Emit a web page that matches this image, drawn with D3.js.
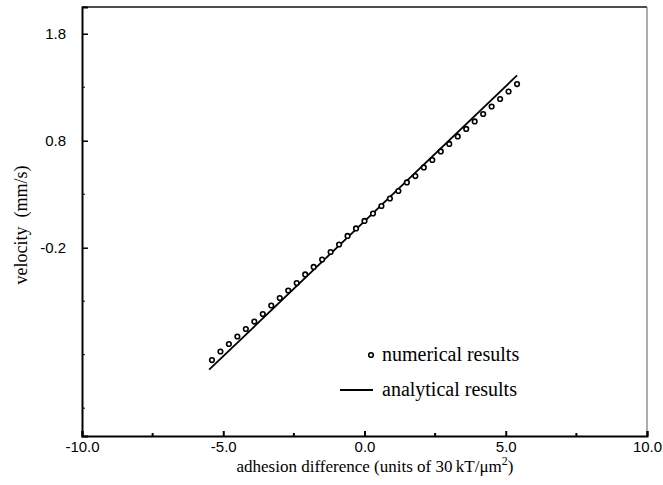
<!DOCTYPE html>
<html lang="en">
  <head>
    <meta charset="UTF-8" />
    <title>velocity vs adhesion difference</title>
    <style>
      body { margin: 0; background: #fff; }
      .tick-label { font-family: "Liberation Sans", Arial, sans-serif; font-size: 15px; }
      .serif { font-family: "Liberation Serif", "Times New Roman", serif; }
    </style>
  </head>
  <body>
    <div id="app"></div>
    <script src="https://cdn.jsdelivr.net/npm/d3@7"></script>
    <script>
      // numerical results (x step 0.3 from -5.4 to 5.4)
      const numX = d3.range(37).map(i => +(-5.4 + 0.3 * i).toFixed(1));
      const numV = [-1.25, -1.17, -1.10, -1.03, -0.96, -0.89, -0.82, -0.74, -0.67, -0.60,
                    -0.53, -0.45, -0.38, -0.31, -0.24, -0.17, -0.09, -0.02, 0.05, 0.12,
                    0.19, 0.26, 0.33, 0.41, 0.47, 0.55, 0.62, 0.70, 0.77, 0.84,
                    0.91, 0.98, 1.05, 1.12, 1.19, 1.26, 1.33];
      // analytical results (straight line)
      const lineX = [-5.5, 5.4];
      const lineV = [-1.34, 1.41];

      const xTicks = [-10, -5, 0, 5, 10];
      const xMinor = [-7.5, -2.5, 2.5, 7.5];
      const yTicks = [1.8, 0.8, -0.2];
      const yMinor = [1.3, 0.3, -0.7, -1.2, -1.7];

      const width = 663, height = 485;
      const plotL = 82, plotR = 647, plotT = 7, plotB = 436;

      const x = d3.scaleLinear().domain([-10, 10]).range([plotL, plotR]);
      const y = d3.scaleLinear().domain([-1.96, 2.05]).range([plotB, plotT]);

      const svg = d3.select("#app").append("svg")
        .attr("width", width).attr("height", height);

      // frame
      svg.append("line").attr("x1", plotL).attr("x2", plotR).attr("y1", plotT).attr("y2", plotT)
        .attr("stroke", "#111").attr("stroke-width", 1.5);
      svg.append("line").attr("x1", plotR).attr("x2", plotR).attr("y1", plotT).attr("y2", plotB)
        .attr("stroke", "#777").attr("stroke-width", 1.2);

      // x axis with inward ticks
      const xAxis = d3.axisBottom(x).tickValues(xTicks).tickSize(-5).tickPadding(5)
        .tickFormat(d3.format(".1f"));
      const gx = svg.append("g").attr("transform", `translate(0,${plotB})`).call(xAxis);
      gx.select(".domain").attr("stroke", "#000").attr("stroke-width", 2);
      gx.selectAll(".tick line").attr("stroke-width", 2);
      gx.selectAll("text").attr("class", "tick-label").attr("fill", "#000")
        .text(d => d3.format(".1f")(d).replace("−", "-"));
      svg.append("g").selectAll("line").data(xMinor).join("line")
        .attr("x1", d => x(d)).attr("x2", d => x(d))
        .attr("y1", plotB).attr("y2", plotB - 3)
        .attr("stroke", "#000").attr("stroke-width", 2);

      // y axis with inward ticks
      const yAxis = d3.axisLeft(y).tickValues(yTicks).tickSize(-6).tickPadding(16)
        .tickFormat(d3.format(".1f"));
      const gy = svg.append("g").attr("transform", `translate(${plotL},0)`).call(yAxis);
      gy.select(".domain").attr("stroke", "#000").attr("stroke-width", 2);
      gy.selectAll(".tick line").attr("stroke-width", 1.5);
      gy.selectAll("text").attr("class", "tick-label").attr("fill", "#000")
        .text(d => d3.format(".1f")(d).replace("−", "-"));
      svg.append("g").selectAll("line").data(yMinor).join("line")
        .attr("x1", plotL).attr("x2", plotL + 3)
        .attr("y1", d => y(d)).attr("y2", d => y(d))
        .attr("stroke", "#000").attr("stroke-width", 1);

      // analytical line
      svg.append("path")
        .datum(lineX.map((d, i) => [d, lineV[i]]))
        .attr("fill", "none").attr("stroke", "#000").attr("stroke-width", 1.8)
        .attr("d", d3.line().x(d => x(d[0])).y(d => y(d[1])));

      // numerical points
      svg.append("g").selectAll("circle").data(numX).join("circle")
        .attr("cx", d => x(d)).attr("cy", (d, i) => y(numV[i]))
        .attr("r", 2.3).attr("fill", "#fff").attr("stroke", "#000").attr("stroke-width", 1.6);

      // legend
      const lg = svg.append("g");
      lg.append("circle").attr("cx", 371).attr("cy", 355).attr("r", 2.3)
        .attr("fill", "#fff").attr("stroke", "#000").attr("stroke-width", 1.6);
      lg.append("text").attr("class", "serif").attr("x", 382).attr("y", 361)
        .attr("font-size", 20).text("numerical results");
      lg.append("line").attr("x1", 340).attr("x2", 373).attr("y1", 390).attr("y2", 390)
        .attr("stroke", "#000").attr("stroke-width", 1.8);
      lg.append("text").attr("class", "serif").attr("x", 382).attr("y", 396)
        .attr("font-size", 20).text("analytical results");

      // axis titles
      const xt = svg.append("text").attr("class", "serif").attr("x", 375).attr("y", 472)
        .attr("text-anchor", "middle").attr("font-size", 17);
      xt.append("tspan").text("adhesion difference (units of 30\u2009kT/\u03bcm");
      xt.append("tspan").attr("font-size", 12).attr("dy", -7).text("2");
      xt.append("tspan").attr("dy", 7).text(")");

      svg.append("text").attr("class", "serif")
        .attr("transform", "translate(27,225) rotate(-90)")
        .attr("text-anchor", "middle").attr("font-size", 18)
        .text("velocity\u00a0\u00a0(mm/s)");
    </script>
  </body>
</html>
